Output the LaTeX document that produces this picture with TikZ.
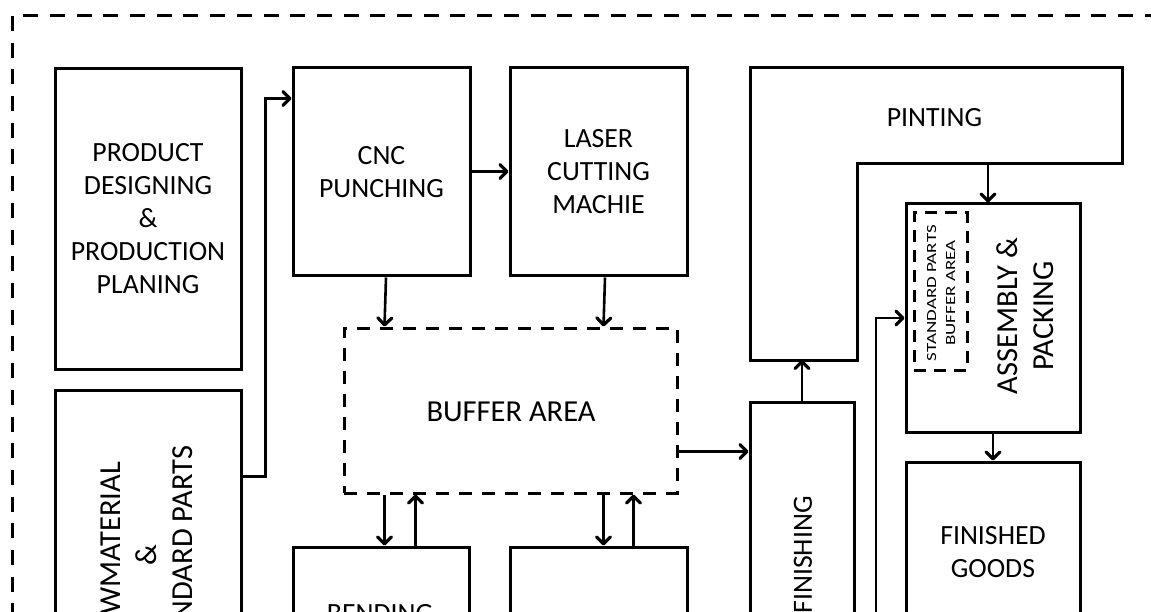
\documentclass[tikz,border=0pt]{standalone}
\usepackage{fontspec}
\setmainfont{Carlito}
\usetikzlibrary{arrows.meta,calc}
\begin{document}
\begin{tikzpicture}[x=1pt,y=-1pt,
  box/.style={draw, line width=3pt, inner sep=0pt, align=center},
  dbox/.style={box, dash pattern=on 13pt off 10pt},
  fa/.style={font=\fontsize{27.8}{33}\selectfont},
  fb/.style={font=\fontsize{30.5}{36}\selectfont},
  lbl/.style={align=center, inner sep=0pt},
  arr/.style={line width=2.6pt, -{Straight Barb[length=7pt,width=14pt,line width=3.2pt,round]}},
  plain/.style={line width=2.6pt}]
\useasboundingbox (0,0) rectangle (1151,612);
\clip (0,0) rectangle (1151,612);
% outer dashed frame
\draw[line width=3pt, dash pattern=on 15pt off 11.7pt] (12,16) rectangle (1180,650);
% boxes
\node[box, fa, minimum width=186pt, minimum height=300pt] (pd) at (148,219)
  {PRODUCT\\DESIGNING\\\&\\PRODUCTION\\PLANING};
\node[box, minimum width=186pt, minimum height=330pt] (raw) at (148,555) {};
\node[lbl, fb, rotate=90] (rawt) at (147,555) {RAWMATERIAL\\\&\\STANDARD PARTS};
\node[box, fa, minimum width=177pt, minimum height=208pt] (cnc) at (381.5,172) {CNC\\PUNCHING};
\node[box, fa, minimum width=177pt, minimum height=208pt] (laser) at (598.5,172) {LASER\\CUTTING\\MACHIE};
\node[dbox, minimum width=333pt, minimum height=165pt] (buffer) at (510.5,410.5) {};
\node[lbl, font=\fontsize{30.5}{36}\selectfont] (buft) at (511,412) {BUFFER AREA};
\node[box, minimum width=176pt, minimum height=208pt] (bend) at (381,651) {};
\node[lbl, fa, anchor=base] (bendt) at (380,622) {BENDING};
\node[box, minimum width=177pt, minimum height=208pt] (box2) at (598.5,651) {};
\node[box, minimum width=104pt, minimum height=306pt] (fin) at (802,555) {};
\node[lbl, fa, rotate=90] (fint) at (803,555) {FINISHING};
% pinting L-shape
\coordinate (ptl) at (750,68);
\coordinate (ptr) at (1122,68);
\coordinate (pbr) at (1122,164);
\coordinate (pin) at (857,164);
\coordinate (pinb) at (857,360);
\coordinate (pbot) at (802,360);
\coordinate (pbl) at (750,360);
\coordinate (pout) at (988,164);
\draw[line width=3pt] (ptl) -- (ptr) -- (pbr) -- (pin) -- (pinb) -- (pbl) -- cycle;
\node[lbl, fa] (pint) at (934.5,118) {PINTING};
\node[box, minimum width=174pt, minimum height=228pt] (asm) at (993,318) {};
\node[box, dash pattern=on 12pt off 8pt, minimum width=53pt, minimum height=157pt] (sp) at (940.5,291.5) {};
\node[lbl, font=\fontsize{14}{19}\selectfont, rotate=90] (spt) at (941,293)
  {\scalebox{1.36}[1]{STANDARD PARTS}\\\scalebox{1.36}[1]{BUFFER AREA}};
\node[lbl, fb, rotate=90] (asmt) at (1025,316) {ASSEMBLY \&\\PACKING};
\node[box, fa, minimum width=174pt, minimum height=180pt] (fg) at (993,552) {FINISHED\\GOODS};
\coordinate (src) at (876,700);
% connectors
\draw[arr] ($(raw.north east)+(0,88)$) -| ($(cnc.north west)+(-26,32)$) -- ($(cnc.north west)+(0,32)$);
\draw[arr] ($(cnc.north east)+(0,105)$) -- ($(laser.north west)+(0,105)$);
\draw[arr] ($(cnc.south)+(4.5,0)$) -- ($(buffer.north west)+(42,0)$);
\draw[arr] ($(laser.south)+(6.5,0)$) -- ($(buffer.north west)+(261,0)$);
\draw[arr] ($(buffer.south west)+(42,0)$) -- ($(bend.north west)+(93,0)$);
\draw[arr] ($(bend.north west)+(124,0)$) -- ($(buffer.south west)+(73,0)$);
\draw[arr] ($(buffer.south west)+(261,0)$) -- ($(box2.north west)+(95,0)$);
\draw[arr] ($(box2.north west)+(125,0)$) -- ($(buffer.south west)+(291,0)$);
\draw[arr] ($(buffer.north east)+(0,125)$) -- ($(fin.north west)+(0,51)$);
\draw[arr] (fin.north) -- (pbot);
\draw[arr] (pout) -- ($(asm.north)+(-5,0)$);
\draw[arr] (asm.south) -- (fg.north);
\draw[arr] (src) |- (asm.west);
\end{tikzpicture}
\end{document}
